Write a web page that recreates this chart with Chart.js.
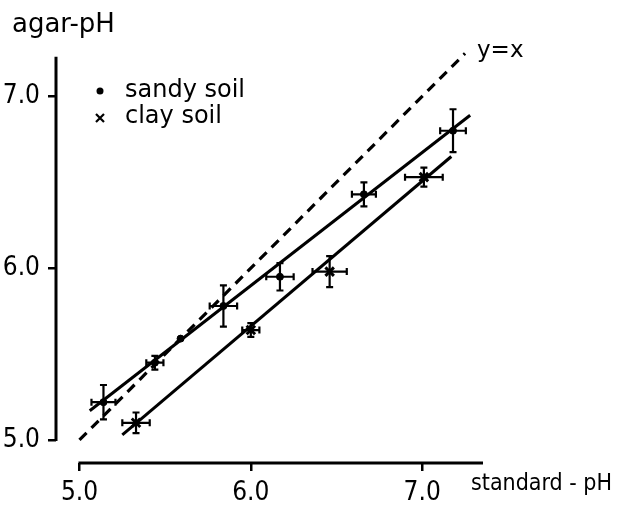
<!DOCTYPE html>
<html>
<head>
<meta charset="utf-8">
<script src="https://cdn.jsdelivr.net/npm/chart.js@4.4.0/dist/chart.umd.min.js"></script>
<style>
  html, body { margin: 0; padding: 0; background: #fff; }
  #wrap { width: 629px; height: 505px; }
</style>
</head>
<body>
<div id="wrap"><canvas id="phChart" width="629" height="505"></canvas></div>
<script>
/* --------------- Values --------------- */
var sandyX    = [5.14, 5.44, 5.59, 5.84, 6.17, 6.66, 7.18];
var sandyY    = [5.22, 5.45, 5.59, 5.78, 5.95, 6.43, 6.80];
var sandyXErr = [0.07, 0.05, 0.0, 0.08, 0.08, 0.07, 0.075];
var sandyYErr = [0.10, 0.04, 0.0, 0.12, 0.08, 0.07, 0.125];

var clayX    = [5.33, 6.00, 6.46, 7.01];
var clayY    = [5.10, 5.64, 5.98, 6.53];
var clayXErr = [0.08, 0.05, 0.10, 0.11];
var clayYErr = [0.06, 0.04, 0.09, 0.055];

// regression lines (end points) and the y=x reference
var sandyFitX = [5.06, 7.28];
var sandyFitY = [5.17, 6.89];
var clayFitX  = [5.25, 7.17];
var clayFitY  = [5.03, 6.65];
var identityX = [5.0, 7.25];

var tickValues = [5.0, 6.0, 7.0];
var tickLabels = ["5.0", "6.0", "7.0"];

var textFont = "'DejaVu Sans', sans-serif";
var narrowFont = "'DejaVu Sans Condensed', 'DejaVu Sans', sans-serif";
var tickFont = "'Liberation Sans Narrow', 'DejaVu Sans Condensed', sans-serif";

function toPoints(xs, ys, xe, ye) {
  var out = [];
  for (let i = 0; i < xs.length; i++) {
    out.push({ x: xs[i], y: ys[i], xErr: xe ? xe[i] : 0, yErr: ye ? ye[i] : 0 });
  }
  return out;
}

/* --------------- Error bars --------------- */
const errorBars = {
  id: "errorBars",
  afterDatasetsDraw(chart) {
    const ctx = chart.ctx;
    const xs = chart.scales.x, ys = chart.scales.y;
    const cap = 3.5;
    ctx.save();
    ctx.strokeStyle = "#000";
    ctx.lineWidth = 2.2;
    chart.data.datasets.forEach((ds) => {
      if (!ds.errorBars) return;
      ds.data.forEach((p) => {
        const cx = xs.getPixelForValue(p.x), cy = ys.getPixelForValue(p.y);
        if (p.xErr > 0) {
          const l = xs.getPixelForValue(p.x - p.xErr), r = xs.getPixelForValue(p.x + p.xErr);
          ctx.beginPath();
          ctx.moveTo(l, cy); ctx.lineTo(r, cy);
          ctx.moveTo(l, cy - cap); ctx.lineTo(l, cy + cap);
          ctx.moveTo(r, cy - cap); ctx.lineTo(r, cy + cap);
          ctx.stroke();
        }
        if (p.yErr > 0) {
          const t = ys.getPixelForValue(p.y + p.yErr), b = ys.getPixelForValue(p.y - p.yErr);
          ctx.beginPath();
          ctx.moveTo(cx, t); ctx.lineTo(cx, b);
          ctx.moveTo(cx - cap, t); ctx.lineTo(cx + cap, t);
          ctx.moveTo(cx - cap, b); ctx.lineTo(cx + cap, b);
          ctx.stroke();
        }
      });
    });
    ctx.restore();
  }
};

/* --------------- Axis lines, titles, legend --------------- */
const decorations = {
  id: "decorations",
  afterDraw(chart) {
    const ctx = chart.ctx;
    const xs = chart.scales.x, ys = chart.scales.y;
    const area = chart.chartArea;
    ctx.save();
    ctx.strokeStyle = "#000";
    ctx.fillStyle = "#000";
    ctx.lineWidth = 3;

    // y axis: from 5.0 up, x axis: from 5.0 to the right
    ctx.beginPath();
    ctx.moveTo(area.left, ys.getPixelForValue(5.0) + 1);
    ctx.lineTo(area.left, ys.getPixelForValue(7.23));
    ctx.moveTo(xs.getPixelForValue(5.0) - 1, area.bottom);
    ctx.lineTo(area.right, area.bottom);
    ctx.stroke();

    ctx.textBaseline = "alphabetic";
    ctx.textAlign = "left";
    ctx.font = "26px " + textFont;
    ctx.fillText("agar-pH", 12, 32);
    ctx.font = "23px " + narrowFont;
    ctx.fillText("standard - pH", 471, 490);
    ctx.font = "23px " + textFont;
    ctx.fillText("y=x", 477, 57);

    // legend
    ctx.font = "24px " + textFont;
    ctx.fillText("sandy soil", 125, 97);
    ctx.fillText("clay soil", 125, 123);
    ctx.beginPath();
    ctx.arc(100, 91, 3.5, 0, Math.PI * 2);
    ctx.fill();
    ctx.lineWidth = 2.2;
    ctx.beginPath();
    ctx.moveTo(96, 114); ctx.lineTo(104, 122);
    ctx.moveTo(104, 114); ctx.lineTo(96, 122);
    ctx.stroke();
    ctx.restore();
  }
};

function setTicks(scale) {
  scale.ticks = tickValues.map((v) => ({ value: v }));
}

let phChart = new Chart(document.getElementById("phChart"), {
  type: "scatter",
  plugins: [errorBars, decorations],
  data: {
    datasets: [
      {
        label: "sandy soil",
        data: toPoints(sandyX, sandyY, sandyXErr, sandyYErr),
        errorBars: true,
        pointStyle: "circle",
        pointRadius: 3.5,
        backgroundColor: "#000",
        borderColor: "#000",
        borderWidth: 1
      },
      {
        label: "clay soil",
        data: toPoints(clayX, clayY, clayXErr, clayYErr),
        errorBars: true,
        pointStyle: "crossRot",
        pointRadius: 6,
        backgroundColor: "#000",
        borderColor: "#000",
        borderWidth: 3
      },
      {
        label: "sandy fit",
        data: toPoints(sandyFitX, sandyFitY),
        showLine: true,
        pointRadius: 0,
        borderColor: "#000",
        borderWidth: 3
      },
      {
        label: "clay fit",
        data: toPoints(clayFitX, clayFitY),
        showLine: true,
        pointRadius: 0,
        borderColor: "#000",
        borderWidth: 3
      },
      {
        label: "y=x",
        data: toPoints(identityX, identityX),
        showLine: true,
        pointRadius: 0,
        borderColor: "#000",
        borderWidth: 3.2,
        borderDash: [10, 7]
      }
    ]
  },
  options: {
    responsive: false,
    animation: false,
    layout: { padding: { left: 0, top: 50, right: 146, bottom: 0 } },
    plugins: {
      legend: { display: false },
      tooltip: { enabled: false }
    },
    scales: {
      x: {
        type: "linear",
        min: 4.863,
        max: 7.355,
        afterBuildTicks: setTicks,
        afterFit: (scale) => { scale.height = 42; },
        border: { display: false },
        grid: { drawOnChartArea: false, drawTicks: true, tickLength: 8, color: "#000", lineWidth: 2.5 },
        ticks: {
          color: "#000",
          padding: 7,
          maxRotation: 0,
          font: { family: tickFont, size: 26 },
          callback: (v) => tickLabels[tickValues.indexOf(v)]
        }
      },
      y: {
        type: "linear",
        min: 4.866,
        max: 7.27,
        afterBuildTicks: setTicks,
        afterFit: (scale) => { scale.width = 56; },
        border: { display: false },
        grid: { drawOnChartArea: false, drawTicks: true, tickLength: 8, color: "#000", lineWidth: 2.5 },
        ticks: {
          color: "#000",
          padding: 8,
          font: { family: tickFont, size: 26 },
          callback: (v) => tickLabels[tickValues.indexOf(v)]
        }
      }
    }
  }
});
</script>
</body>
</html>
